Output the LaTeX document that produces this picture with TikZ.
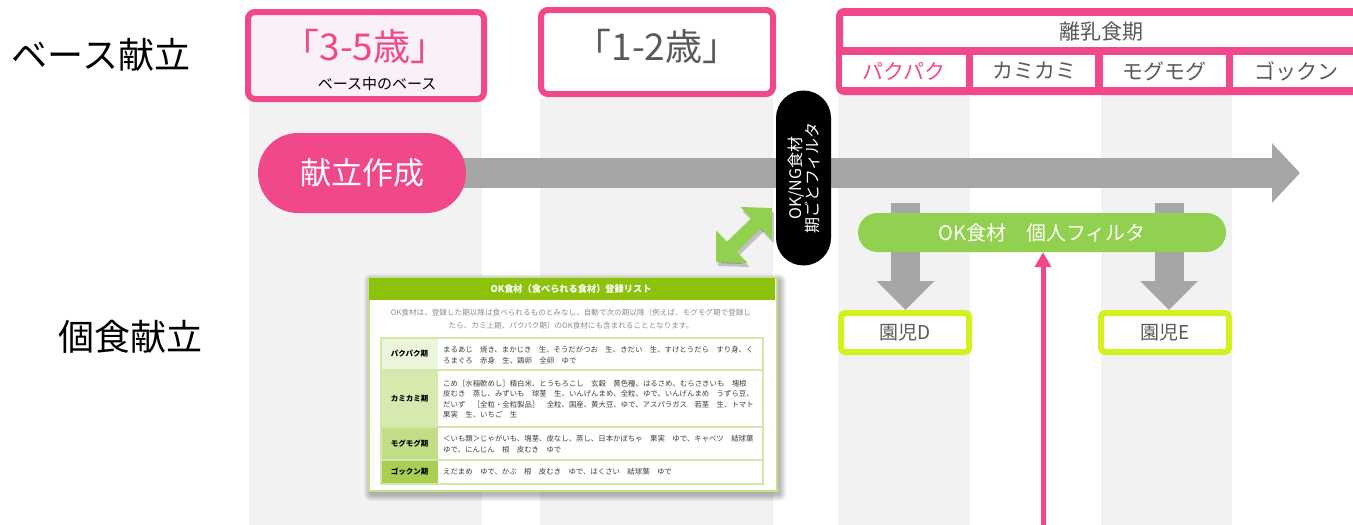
\documentclass[tikz,border=0pt]{standalone}
\usepackage{fontspec}
\setmainfont{Noto Sans CJK JP}
\usetikzlibrary{arrows.meta}
\definecolor{pinkc}{HTML}{F0488A}
\definecolor{lightpink}{HTML}{FAF0F7}
\definecolor{txtgray}{HTML}{595959}
\definecolor{colgray}{HTML}{F2F2F2}
\definecolor{arrowgray}{HTML}{A6A6A6}
\definecolor{greenc}{HTML}{92D050}
\definecolor{limec}{HTML}{D4F01E}
\definecolor{hdrgreen}{HTML}{8CC10C}
\definecolor{cardborder}{HTML}{C5E08A}
\definecolor{tblline}{HTML}{D3E7AC}
\definecolor{labA}{HTML}{EBF5DA}
\definecolor{labB}{HTML}{D6EAAE}
\definecolor{labC}{HTML}{C1DF88}
\definecolor{labD}{HTML}{A8CF54}
\definecolor{desc}{HTML}{8C8C8C}
\definecolor{conttext}{HTML}{404040}
\tikzset{
  colbg/.style={fill=colgray, draw=none},
  agebox/.style={draw=pinkc, line width=6pt, rounded corners=7pt, inner sep=0pt},
  hcell/.style={fill=white, inner sep=0pt, text=txtgray, font=\fontsize{21}{24}\selectfont},
  bigarrow/.style={draw=arrowgray, line width=30pt, -{Triangle[width=58pt,length=28pt]}},
  downarrow/.style={draw=arrowgray, line width=29pt, -{Triangle[width=56pt,length=29pt]}},
  enji/.style={draw=limec, line width=6pt, fill=white, rounded corners=4pt, minimum width=128pt, minimum height=39pt, inner sep=0pt, text=txtgray, font=\fontsize{19}{22}\selectfont},
  labcell/.style={minimum width=57pt, inner sep=0pt, font=\fontsize{7.5}{9}\bfseries\selectfont, text=black},
  cont/.style={anchor=west, align=left, font=\fontsize{7.4}{10.5}\selectfont, text=conttext, inner sep=0pt},
  desctext/.style={font=\fontsize{7.6}{9}\selectfont, text=desc, inner sep=0pt},
  biglabel/.style={font=\fontsize{36}{40}\selectfont, text=black, inner sep=0pt},
  agetext/.style={font=\fontsize{37}{40}\selectfont, inner sep=0pt},
  dblgreen/.style={line width=14pt, {Triangle[width=44pt,length=22pt]}-{Triangle[width=44pt,length=22pt]}},
}
\begin{document}
\begin{tikzpicture}[x=1pt,y=-1pt]
\useasboundingbox (0,0) rectangle (1353,525);
\fill[white] (0,0) rectangle (1353,525);

% background columns
\fill[colbg] (249,100) rectangle (482,525);
\fill[colbg] (540,97) rectangle (773,525);
\fill[colbg] (838,95) rectangle (970,525);
\fill[colbg] (1101,95) rectangle (1232,525);

% left labels
\node[biglabel] (base) at (101,55) {ベース献立};
\node[biglabel] (kosyoku) at (130,337) {個食献立};

% age boxes
\node[agebox, fill=lightpink, minimum width=236pt, minimum height=87pt] (age35) at (366,55.5) {};
\node[agetext, text=pinkc] (t35) at (365,46) {「3-5歳」};
\node[text=black, font=\fontsize{15}{17}\selectfont, inner sep=0pt] (sub35) at (377,84) {ベース中のベース};
\node[agebox, fill=white, minimum width=232pt, minimum height=84pt] (age12) at (657,52) {};
\node[agetext, text=txtgray] (t12) at (657,46) {「1-2歳」};

% weaning header
\fill[pinkc, rounded corners=8pt] (836,8) rectangle (1380,95);
\node[hcell, minimum width=517pt, minimum height=31pt] (rinyu) at (1101.5,31.5) {離乳食期};
\node[hcell, minimum width=124pt, minimum height=32pt, text=pinkc] (paku) at (904,71) {パクパク};
\node[hcell, minimum width=122pt, minimum height=32pt] (kami) at (1034,71) {カミカミ};
\node[hcell, minimum width=123pt, minimum height=32pt] (mogu) at (1164.5,71) {モグモグ};
\node[hcell, minimum width=127pt, minimum height=32pt] (gokkun) at (1296.5,71) {ゴックン};

% main arrow, then pill on top
\coordinate (sakc) at (362,173);
\coordinate (mainend) at (1300,173);
\draw[bigarrow] (sakc) -- (mainend);
\node[fill=pinkc, minimum width=208pt, minimum height=80pt, rounded corners=40pt, inner sep=0pt, text=white, font=\fontsize{31}{34}\selectfont] (sakusei) at (sakc) {献立作成};

% black filter pill
\node[fill=black, rotate=90, minimum width=175pt, minimum height=55pt, rounded corners=27.5pt, inner sep=0pt, align=center, text=white, font=\fontsize{16}{17}\selectfont] (filt) at (803.5,178) {OK/NG食材\\期ごとフィルタ};

% green double arrow
\coordinate (ga) at (716,262);
\coordinate (gb) at (772,208);
\draw[black, opacity=0.2, dblgreen, transform canvas={shift={(2pt,-4pt)}}] (ga) -- (gb);
\draw[greenc, dblgreen] (ga) -- (gb);

% children and down arrows
\node[enji] (enjiD) at (905,332.5) {園児D};
\node[enji] (enjiE) at (1165,332.5) {園児E};
\coordinate (dA) at (905.5,203);
\coordinate (dB) at (1169,203);
\draw[downarrow] (dA) -- (dA |- enjiD.north);
\draw[downarrow] (dB) -- (dB |- enjiE.north);

% OK personal filter
\node[fill=greenc, minimum width=368pt, minimum height=39pt, rounded corners=19.5pt, inner sep=0pt, text=white, font=\fontsize{20}{22}\selectfont] (okfilter) at (1042,232.5) {OK食材　個人フィルタ};

% pink upward arrow
\coordinate (pbot) at (1043,530);
\draw[pinkc, line width=5pt, -{Triangle[width=16pt,length=15pt]}] (pbot) -- (pbot |- okfilter.south);

% card shadow
\foreach \i in {1,...,7} {
  \fill[black, opacity=0.045, rounded corners=\i pt] (368+3-\i,277+4-\i) rectangle (776+3+\i,490+4+\i);
}
% card
\node[draw=cardborder, line width=1.5pt, fill=white, minimum width=408pt, minimum height=213pt, anchor=north west, inner sep=0pt] (card) at (368,277) {};
\fill[hdrgreen] (369,278) rectangle (775,300);
\node[text=white, font=\fontsize{9.2}{11}\bfseries\selectfont, inner sep=0pt] (cardtitle) at (571,289) {OK食材（食べられる食材）登録リスト};
\node[desctext] (desc1) at (571,312.5) {OK食材は、登録した期以降は食べられるものとみなし、自動で次の期以降（例えば、モグモグ期で登録し};
\node[desctext] (desc2) at (571,325.5) {たら、カミ上期、パクパク期）のOK食材にも含まれることとなります。};

% table
\node[labcell, fill=labA, minimum height=32pt] (l1) at (409.5,354) {パクパク期};
\node[labcell, fill=labB, minimum height=57pt] (l2) at (409.5,398.5) {カミカミ期};
\node[labcell, fill=labC, minimum height=33pt] (l3) at (409.5,443.5) {モグモグ期};
\node[labcell, fill=labD, minimum height=24pt] (l4) at (409.5,472) {ゴックン期};
\draw[tblline, line width=1.5pt] (381,338) rectangle (763,484);
\draw[tblline, line width=1.5pt] (381,370) -- (763,370) (381,427) -- (763,427) (381,460) -- (763,460);
\node[cont] (c1) at (443,355) {まるあじ　焼き、まかじき　生、そうだがつお　生、きだい　生、すけとうだら　すり身、く\\ろまぐろ　赤身　生、鶏卵　全卵　ゆで};
\node[cont] (c2) at (443,399) {こめ［水稲軟めし］精白米、とうもろこし　玄穀　黄色種、はるさめ、むらさきいも　塊根\\皮むき　蒸し、みずいも　球茎　生、いんげんまめ、全粒、ゆで、いんげんまめ　うずら豆、\\だいず　［全粒・全粒製品］　全粒、国産、黄大豆、ゆで、アスパラガス　若茎　生、トマト\\果実　生、いちご　生};
\node[cont] (c3) at (443,444) {＜いも類＞じゃがいも、塊茎、皮なし、蒸し、日本かぼちゃ　果実　ゆで、キャベツ　結球葉\\ゆで、にんじん　根　皮むき　ゆで};
\node[cont] (c4) at (443,472) {えだまめ　ゆで、かぶ　根　皮むき　ゆで、はくさい　結球葉　ゆで};
\end{tikzpicture}
\end{document}
